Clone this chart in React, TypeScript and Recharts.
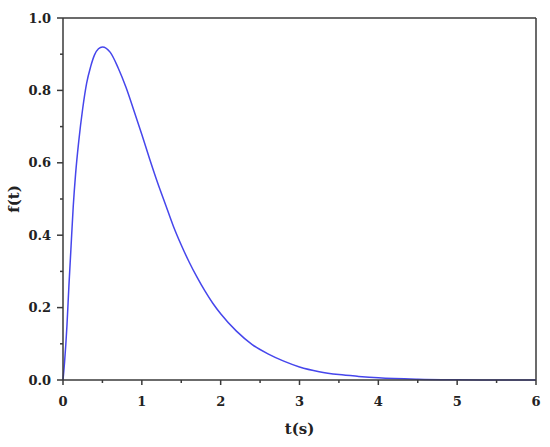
import React from "react"
import { LineChart, Line, XAxis, YAxis, Label, ReferenceLine } from "recharts"

// values
const times = [0, 0.02, 0.05, 0.075, 0.1, 0.13, 0.16, 0.2, 0.25, 0.3, 0.35, 0.4, 0.45, 0.5, 0.6, 0.7, 0.8, 0.9, 1.0, 1.1, 1.2, 1.3, 1.4, 1.5, 1.6, 1.7, 1.8, 1.9, 2.0, 2.2, 2.4, 2.6, 2.8, 3.0, 3.25, 3.5, 3.75, 4.0, 4.5, 5.0, 5.5, 6.0]
const fValues = [0, 0.05, 0.15, 0.26, 0.36, 0.48, 0.57, 0.66, 0.75, 0.82, 0.865, 0.898, 0.915, 0.92, 0.905, 0.862, 0.808, 0.744, 0.678, 0.61, 0.545, 0.485, 0.425, 0.373, 0.326, 0.284, 0.246, 0.212, 0.183, 0.135, 0.098, 0.072, 0.052, 0.036, 0.023, 0.015, 0.01, 0.006, 0.002, 0.0005, 0, 0]

const xTicks = [0, 0.5, 1, 1.5, 2, 2.5, 3, 3.5, 4, 4.5, 5, 5.5, 6]
const yTicks = [0, 0.1, 0.2, 0.3, 0.4, 0.5, 0.6, 0.7, 0.8, 0.9, 1.0]

const data = times.map((t, i) => ({ t, f: fValues[i] }))

const axisColor = "#3a3a3a"
const font = "'DejaVu Serif', 'Liberation Serif', serif"

const isMajor = (v: number) => Math.abs(v * 5 - Math.round(v * 5)) < 1e-6

function XTick({ x, y, payload }: any) {
  const v = payload.value
  const major = Number.isInteger(v)
  return (
    <g>
      <line x1={x} x2={x} y1={y} y2={y + (major ? 5 : 3)} stroke={axisColor} strokeWidth={1.5} />
      {major && (
        <text x={x} y={y + 26} textAnchor="middle" fontFamily={font} fontWeight="bold" fontSize={13} fill="#222">
          {v}
        </text>
      )}
    </g>
  )
}

function YTick({ x, y, payload }: any) {
  const v = payload.value
  const major = isMajor(v)
  return (
    <g>
      <line x1={x - (major ? 6 : 3)} x2={x} y1={y} y2={y} stroke={axisColor} strokeWidth={1.5} />
      {major && (
        <text x={x - 12} y={y + 4.5} textAnchor="end" fontFamily={font} fontWeight="bold" fontSize={13} fill="#222">
          {v.toFixed(1)}
        </text>
      )}
    </g>
  )
}

function YLabel({ viewBox }: any) {
  const cy = viewBox.y + viewBox.height / 2
  return (
    <text x={19} y={cy} transform={`rotate(-90, 19, ${cy})`} textAnchor="middle" fontFamily={font} fontWeight="bold" fontSize={15} fill="#222">
      f(t)
    </text>
  )
}

export default function App() {
  return (
    <div style={{ position: "absolute", left: 0, top: 0, width: 550, height: 447, background: "#fff" }}>
      <LineChart width={550} height={447} data={data} margin={{ top: 18, right: 14, bottom: 0, left: 0 }}>
        <XAxis
          dataKey="t"
          type="number"
          domain={[0, 6]}
          ticks={xTicks}
          interval={0}
          height={67}
          tickSize={0}
          tickMargin={0}
          tickLine={false}
          tick={<XTick />}
          axisLine={{ stroke: axisColor, strokeWidth: 1.5 }}
        >
          <Label value="t(s)" position="insideBottom" offset={13} style={{ fontFamily: font, fontWeight: "bold", fontSize: 15, fill: "#222" }} />
        </XAxis>
        <YAxis
          type="number"
          domain={[0, 1]}
          ticks={yTicks}
          interval={0}
          width={63}
          tickSize={0}
          tickMargin={0}
          tickLine={false}
          tick={<YTick />}
          axisLine={{ stroke: axisColor, strokeWidth: 1.5 }}
        >
          <Label content={<YLabel />} />
        </YAxis>
        <ReferenceLine y={1} stroke={axisColor} strokeWidth={1.5} ifOverflow="visible" />
        <ReferenceLine x={6} stroke={axisColor} strokeWidth={1.5} ifOverflow="visible" />
        <Line type="monotone" dataKey="f" stroke="#4646ec" strokeWidth={1.5} dot={false} isAnimationActive={false} />
      </LineChart>
    </div>
  )
}
